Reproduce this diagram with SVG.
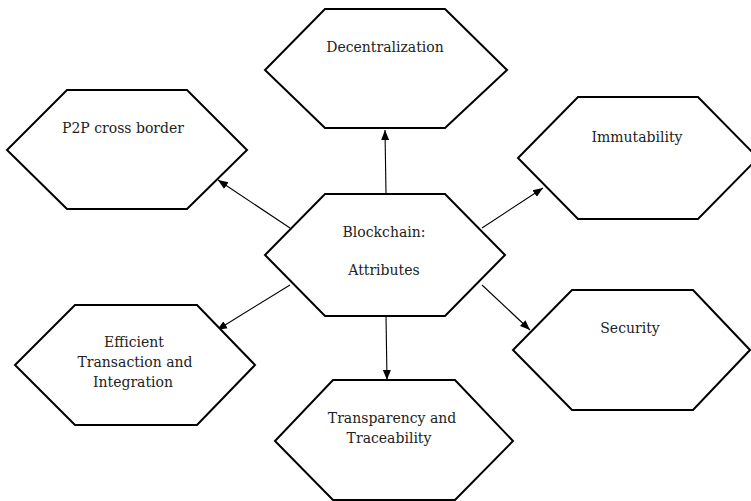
<svg xmlns="http://www.w3.org/2000/svg" width="751" height="501" viewBox="0 0 751 501">
<style>
.hex{fill:#fff;stroke:#000;stroke-width:2;stroke-linejoin:miter}
.t{font-family:"DejaVu Serif","Liberation Serif",serif;font-size:14px;fill:#222;text-anchor:middle}
.c{stroke:#000;stroke-width:1.1;fill:none;marker-end:url(#ah)}
</style>
<defs>
<marker id="ah" viewBox="0 0 10 10" refX="10" refY="5" markerWidth="10" markerHeight="10" markerUnits="userSpaceOnUse" orient="auto">
<path d="M0,1 L10,5 L0,9 z" fill="#000"/>
</marker>
</defs>
<rect width="751" height="501" fill="#fff"/>
<g id="connectors">
<line class="c" x1="386" y1="194" x2="385" y2="130"/>
<line class="c" x1="290" y1="228" x2="218" y2="180"/>
<line class="c" x1="482" y1="228" x2="543" y2="188"/>
<line class="c" x1="290" y1="285" x2="217" y2="330"/>
<line class="c" x1="482" y1="285" x2="530" y2="330"/>
<line class="c" x1="386" y1="316" x2="387" y2="380"/>
</g>
<g id="center">
<polygon class="hex" points="325,194 445,194 505,255 445,316 325,316 265,255"/>
<text class="t" x="384" y="237">Blockchain:</text>
<text class="t" x="384" y="275">Attributes</text>
</g>
<g id="decentralization">
<polygon class="hex" points="325,9 445,9 507,70 445,128 325,128 265,70"/>
<text class="t" x="385" y="52">Decentralization</text>
</g>
<g id="p2p">
<polygon class="hex" points="67,90 187,90 247,150 187,209 67,209 7,150"/>
<text class="t" x="123" y="133">P2P cross border</text>
</g>
<g id="immutability">
<polygon class="hex" points="578,97 698,97 758,158 698,219 578,219 518,158"/>
<text class="t" x="637" y="142">Immutability</text>
</g>
<g id="efficient">
<polygon class="hex" points="75,305 197,305 255,365 197,425 75,425 15,365"/>
<text class="t" x="134" y="347">Efficient</text>
<text class="t" x="135" y="367">Transaction and</text>
<text class="t" x="133" y="387">Integration</text>
</g>
<g id="security">
<polygon class="hex" points="572,290 693,290 750,350 693,410 572,410 513,350"/>
<text class="t" x="630" y="333">Security</text>
</g>
<g id="transparency">
<polygon class="hex" points="333,380 455,380 513,441 455,500 333,500 275,441"/>
<text class="t" x="392" y="423">Transparency and</text>
<text class="t" x="389" y="443">Traceability</text>
</g>
</svg>
